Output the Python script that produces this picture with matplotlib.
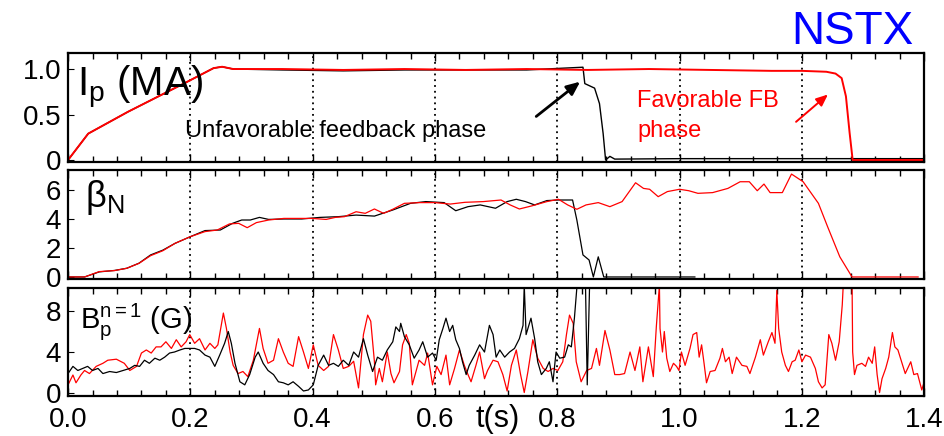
import matplotlib
matplotlib.use('Agg')
import matplotlib.pyplot as plt
from matplotlib.ticker import MultipleLocator

plt.rcParams['font.family'] = 'Liberation Sans'
plt.rcParams['mathtext.fontset'] = 'custom'
plt.rcParams['mathtext.rm'] = 'Liberation Sans'
plt.rcParams['mathtext.it'] = 'Liberation Sans'

# --------------------------------------------------------------------------------
# PLASMA CURRENT Ip (MA)
# --------------------------------------------------------------------------------
ip_red_t = [0.0, 0.033, 0.098, 0.195, 0.238, 0.252, 0.27, 0.35, 0.45, 0.55,
            0.65, 0.75, 0.85, 0.95, 1.05, 1.15, 1.2, 1.24, 1.255, 1.265,
            1.272, 1.278, 1.283, 1.3, 1.4]
ip_red = [0.0, 0.29, 0.53, 0.86, 1.01, 1.025, 1.0, 1.0, 0.99, 1.0,
          0.99, 1.0, 0.99, 1.0, 0.99, 0.98, 0.98, 0.97, 0.95, 0.9,
          0.7, 0.3, 0.0, 0.0, 0.0]

ip_black_t = [0.0, 0.033, 0.098, 0.195, 0.238, 0.252, 0.27, 0.35, 0.45, 0.55,
              0.65, 0.75, 0.842, 0.845, 0.861, 0.869, 0.875, 0.879, 0.886, 0.894,
              1.0, 1.4]
ip_black = [0.0, 0.29, 0.53, 0.86, 1.01, 1.025, 1.0, 0.99, 0.98, 0.99,
            0.99, 0.99, 1.02, 0.84, 0.79, 0.62, 0.29, 0.0, 0.04, 0.01,
            0.015, 0.015]

# --------------------------------------------------------------------------------
# NORMALIZED BETA
# --------------------------------------------------------------------------------
bn_red_t = [0.0, 0.027, 0.051, 0.076, 0.096, 0.116, 0.135, 0.155, 0.175, 0.2,
            0.224, 0.244, 0.264, 0.279, 0.293, 0.308, 0.328, 0.353, 0.373, 0.399,
            0.422, 0.437, 0.452, 0.471, 0.486, 0.501, 0.516, 0.531, 0.55, 0.575,
            0.6, 0.625, 0.649, 0.679, 0.708, 0.723, 0.738, 0.758, 0.783, 0.802,
            0.817, 0.832, 0.847, 0.867, 0.886, 0.906, 0.928, 0.941, 0.951, 0.965,
            0.98, 1.0, 1.015, 1.03, 1.054, 1.079, 1.099, 1.114, 1.127, 1.138,
            1.148, 1.168, 1.183, 1.202, 1.227, 1.242, 1.262, 1.282, 1.39]
bn_red = [0.0, 0.0, 0.37, 0.44, 0.6, 0.94, 1.47, 1.81, 2.32, 2.78,
          3.13, 3.24, 3.66, 3.7, 3.4, 3.75, 3.93, 4.04, 4.04, 4.04,
          3.97, 4.11, 4.16, 4.5, 4.39, 4.69, 4.39, 4.67, 5.08, 5.13,
          5.13, 5.03, 5.15, 5.2, 5.31, 4.97, 4.69, 4.9, 5.2, 5.36,
          4.97, 4.67, 4.97, 5.13, 4.85, 5.2, 6.5, 6.11, 6.05, 5.54,
          5.89, 6.05, 5.95, 5.77, 5.82, 6.11, 6.57, 6.57, 5.95, 6.41,
          5.82, 5.82, 7.1, 6.57, 5.08, 3.47, 1.39, 0.0, 0.0]

bn_black_t = [0.0, 0.027, 0.051, 0.076, 0.096, 0.116, 0.135, 0.155, 0.175, 0.2,
              0.224, 0.249, 0.269, 0.284, 0.298, 0.313, 0.328, 0.353, 0.382, 0.412,
              0.442, 0.471, 0.501, 0.531, 0.56, 0.585, 0.615, 0.634, 0.654, 0.674,
              0.699, 0.718, 0.733, 0.748, 0.763, 0.783, 0.802, 0.825, 0.832, 0.842,
              0.852, 0.859, 0.867, 0.876, 1.025]
bn_black = [0.0, 0.0, 0.35, 0.45, 0.6, 0.95, 1.52, 1.85, 2.32, 2.78,
            3.2, 3.24, 3.7, 3.93, 3.93, 4.11, 3.97, 4.0, 4.0, 4.11,
            4.16, 4.27, 4.2, 4.62, 5.08, 5.2, 5.13, 4.57, 4.85, 4.97,
            4.74, 5.2, 5.36, 5.2, 4.97, 5.27, 5.31, 5.31, 3.93, 1.52,
            1.17, 0.0, 1.39, 0.0, 0.0]

# --------------------------------------------------------------------------------
# n=1 POLOIDAL FIELD AMPLITUDE (G)
# --------------------------------------------------------------------------------
bp_red_t = [0.000, 0.008, 0.013, 0.021, 0.027, 0.035, 0.046, 0.057, 0.065, 0.079,
            0.092, 0.101, 0.112, 0.120, 0.128, 0.136, 0.144, 0.152, 0.160, 0.169,
            0.177, 0.185, 0.193, 0.199, 0.207, 0.215, 0.224, 0.232, 0.240, 0.245,
            0.254, 0.259, 0.265, 0.270, 0.278, 0.286, 0.294, 0.303, 0.313, 0.319,
            0.327, 0.336, 0.344, 0.352, 0.360, 0.368, 0.377, 0.385, 0.393, 0.401,
            0.409, 0.418, 0.426, 0.434, 0.442, 0.450, 0.459, 0.467, 0.475, 0.483,
            0.490, 0.495, 0.501, 0.503, 0.509, 0.514, 0.522, 0.528, 0.533, 0.542,
            0.547, 0.553, 0.558, 0.563, 0.569, 0.574, 0.583, 0.588, 0.596, 0.603,
            0.610, 0.618, 0.624, 0.632, 0.640, 0.648, 0.654, 0.659, 0.667, 0.673,
            0.681, 0.686, 0.695, 0.703, 0.711, 0.718, 0.725, 0.733, 0.740, 0.746,
            0.752, 0.760, 0.768, 0.777, 0.785, 0.793, 0.801, 0.809, 0.815, 0.820,
            0.826, 0.831, 0.839, 0.848, 0.856, 0.864, 0.869, 0.878, 0.886, 0.894,
            0.902, 0.910, 0.919, 0.927, 0.935, 0.940, 0.949, 0.957, 0.962, 0.967,
            0.968, 0.972, 0.975, 0.979, 0.984, 0.990, 0.995, 0.999, 1.003, 1.009,
            1.017, 1.022, 1.028, 1.032, 1.036, 1.040, 1.044, 1.050, 1.058, 1.066,
            1.070, 1.075, 1.081, 1.086, 1.093, 1.102, 1.110, 1.115, 1.124, 1.132,
            1.137, 1.145, 1.151, 1.156, 1.159, 1.162, 1.167, 1.173, 1.178, 1.184,
            1.189, 1.195, 1.200, 1.206, 1.214, 1.222, 1.227, 1.233, 1.238, 1.244,
            1.249, 1.255, 1.261, 1.266, 1.268, 1.282, 1.283, 1.286, 1.290, 1.298,
            1.304, 1.309, 1.315, 1.319, 1.323, 1.327, 1.331, 1.337, 1.342, 1.348,
            1.352, 1.357, 1.363, 1.369, 1.378, 1.383, 1.389, 1.396, 1.400]
bp_red = [0.8, 1.76, 1.0, 1.76, 2.2, 1.9, 2.6, 2.9, 3.2, 3.3,
          2.9, 2.2, 2.6, 3.9, 4.2, 3.9, 4.5, 4.5, 5.0, 4.35,
          5.2, 4.5, 5.0, 5.7, 4.85, 5.3, 4.2, 4.85, 4.35, 4.7,
          7.8, 6.3, 4.0, 2.7, 1.9, 2.1, 1.6, 3.2, 6.3, 4.35,
          2.9, 3.2, 5.3, 4.0, 2.9, 2.6, 5.5, 4.0, 2.4, 4.7,
          2.7, 2.2, 2.6, 5.7, 4.2, 2.4, 2.6, 3.1, 0.5, 5.7,
          7.6, 7.0, 3.05, 0.8, 2.4, 1.1, 4.0, 1.9, 1.0, 2.1,
          4.7, 5.7, 4.85, 0.8, 2.1, 3.2, 2.7, 3.9, 0.8, 2.6,
          1.8, 3.7, 0.8, 2.4, 4.2, 2.7, 1.8, 1.1, 2.7, 4.0,
          1.4, 2.2, 3.2, 3.05, 1.8, 0.2, 2.7, 4.2, 1.8, 0.05,
          2.1, 5.2, 3.4, 2.4, 2.1, 2.4, 2.2, 3.05, 5.7, 7.6,
          6.8, 3.05, 1.1, 2.2, 2.4, 4.35, 2.7, 6.1, 4.2, 1.8,
          1.8, 1.9, 4.0, 2.2, 4.5, 1.1, 4.5, 1.6, 6.5, 10.5,
          6.3, 4.0, 6.0, 3.4, 2.1, 2.9, 2.6, 2.2, 4.0, 2.7,
          4.35, 5.7, 5.9, 3.5, 4.7, 2.9, 1.0, 2.1, 2.2, 3.4,
          4.35, 3.05, 3.5, 1.9, 3.5, 2.7, 2.6, 1.9, 3.5, 5.2,
          3.7, 5.0, 5.9, 4.85, 10.0, 6.3, 4.0, 2.7, 2.1, 3.05,
          3.2, 4.2, 3.05, 3.7, 3.5, 2.4, 1.1, 0.5, 0.8, 5.7,
          4.85, 3.2, 5.0, 8.6, 11.0, 11.0, 4.0, 1.8, 2.7, 2.9,
          2.6, 3.5, 2.9, 4.5, 1.8, 0.05, 1.4, 2.4, 3.5, 5.9,
          4.5, 4.2, 3.05, 1.9, 3.05, 1.8, 1.9, 0.3, 1.1]

bp_black_t = [0.000, 0.008, 0.016, 0.024, 0.032, 0.040, 0.049, 0.057, 0.068, 0.079,
              0.090, 0.101, 0.109, 0.117, 0.125, 0.133, 0.142, 0.150, 0.158, 0.166,
              0.174, 0.183, 0.191, 0.199, 0.207, 0.215, 0.224, 0.232, 0.240, 0.248,
              0.256, 0.262, 0.267, 0.273, 0.281, 0.289, 0.297, 0.306, 0.311, 0.319,
              0.327, 0.336, 0.344, 0.352, 0.360, 0.368, 0.377, 0.385, 0.393, 0.401,
              0.409, 0.418, 0.426, 0.434, 0.442, 0.450, 0.459, 0.467, 0.475, 0.483,
              0.490, 0.498, 0.506, 0.514, 0.522, 0.531, 0.536, 0.542, 0.544, 0.550,
              0.558, 0.566, 0.574, 0.580, 0.588, 0.596, 0.602, 0.607, 0.613, 0.618,
              0.624, 0.629, 0.634, 0.640, 0.645, 0.651, 0.656, 0.665, 0.673, 0.681,
              0.689, 0.695, 0.700, 0.706, 0.714, 0.722, 0.730, 0.738, 0.744, 0.746,
              0.749, 0.757, 0.763, 0.768, 0.774, 0.782, 0.787, 0.793, 0.798, 0.804,
              0.812, 0.818, 0.823, 0.828, 0.833, 0.846, 0.849, 0.853, 0.857]
bp_black = [1.9, 2.6, 2.2, 2.4, 2.6, 2.2, 2.4, 1.9, 2.1, 2.0,
            2.2, 2.4, 2.7, 2.6, 3.2, 2.9, 3.4, 3.2, 3.5, 3.9,
            4.0, 4.2, 4.35, 4.35, 4.35, 4.2, 3.7, 3.5, 2.6, 3.7,
            4.85, 6.0, 4.85, 2.9, 1.1, 0.8, 1.8, 3.5, 4.0, 2.9,
            2.2, 1.8, 1.1, 1.0, 0.8, 1.1, 0.65, 0.2, 0.3, 0.8,
            2.7, 3.7, 2.7, 2.9, 2.6, 3.2, 2.7, 4.0, 3.5, 5.3,
            3.7, 2.1, 3.5, 3.2, 4.2, 5.0, 6.45, 6.0, 6.8, 5.5,
            4.7, 3.4, 4.2, 5.0, 3.5, 3.9, 3.2, 5.2, 6.3, 7.3,
            6.0, 6.6, 5.2, 4.35, 3.05, 1.8, 2.7, 3.7, 4.7, 4.0,
            6.6, 5.7, 3.5, 4.2, 3.5, 4.0, 4.35, 5.3, 6.6, 10.5,
            5.7, 7.3, 5.3, 3.05, 1.8, 2.4, 3.05, 1.1, 4.0, 3.4,
            3.5, 4.7, 4.5, 7.3, 11.0, 11.0, 0.8, 11.0, 11.0]

x_ticks = [0.0, 0.2, 0.4, 0.6, 0.8, 1.0, 1.2, 1.4]
x_tick_labels = ['0.0', '0.2', '0.4', '0.6', '0.8', '1.0', '1.2', '1.4']
grid_times = [0.2, 0.4, 0.6, 0.8, 1.0, 1.2]

# --------------------------------------------------------------------------------
# FIGURE
# --------------------------------------------------------------------------------
fig = plt.figure(figsize=(9.45, 4.36), dpi=100)
ax1 = fig.add_axes([0.072, 0.6284, 0.906, 0.25])
ax2 = fig.add_axes([0.072, 0.3601, 0.906, 0.25])
ax3 = fig.add_axes([0.072, 0.0917, 0.906, 0.2477])

ax1.plot(ip_black_t, ip_black, color='black', lw=1.0)
ax1.plot(ip_red_t, ip_red, color='red', lw=1.4)
ax1.set_ylim(-0.022, 1.176)
ax1.set_yticks([0, 0.5, 1.0])
ax1.set_yticklabels(['0', '0.5', '1.0'])

ax2.plot(bn_black_t, bn_black, color='black', lw=0.9)
ax2.plot(bn_red_t, bn_red, color='red', lw=0.9)
ax2.set_ylim(-0.14, 7.38)
ax2.set_yticks([0, 2, 4, 6])

ax3.plot(bp_red_t, bp_red, color='red', lw=0.9)
ax3.plot(bp_black_t, bp_black, color='black', lw=0.9)
ax3.set_ylim(-0.29, 10.24)
ax3.set_yticks([0, 4, 8])

for ax in (ax1, ax2, ax3):
    ax.set_xlim(0, 1.4)
    ax.set_xticks(x_ticks)
    ax.xaxis.set_minor_locator(MultipleLocator(0.04))
    ax.tick_params(axis='x', which='both', direction='in', top=True, bottom=True)
    ax.tick_params(axis='x', which='major', length=6, width=1)
    ax.tick_params(axis='x', which='minor', length=4, width=1)
    ax.tick_params(axis='y', direction='in', length=4, labelsize=20, pad=5)
    for t in grid_times:
        ax.axvline(t, color='black', lw=1.3, ls=(0, (1, 2.2)), zorder=0)
    for sp in ax.spines.values():
        sp.set_linewidth(1.6)

ax1.set_xticklabels([])
ax2.set_xticklabels([])
ax3.set_xticklabels(x_tick_labels)
ax3.tick_params(axis='x', which='major', labelsize=20, pad=8)

# panel labels
ax1.text(0.0105, 0.6, r'$\mathregular{I_p}$ (MA)', transform=ax1.transAxes,
         fontsize=29, va='baseline', ha='left')
ax2.text(0.02, 0.66, r'$\mathregular{β_N}$', transform=ax2.transAxes,
         fontsize=26, va='baseline', ha='left')
ax3.text(0.014, 0.63, r'$\mathregular{B_p^{n{=}1}}$ (G)', transform=ax3.transAxes,
         fontsize=21, va='baseline', ha='left')

# annotations in the current panel
ax1.text(0.137, 0.23, 'Unfavorable feedback phase', transform=ax1.transAxes,
         fontsize=17, va='baseline', ha='left')
ax1.annotate('', xy=(0.841, 0.88), xytext=(0.762, 0.46),
             arrowprops=dict(arrowstyle='-|>,head_length=0.8,head_width=0.35',
                             color='black', lw=2))
ax1.text(0.665, 0.505, 'Favorable FB', transform=ax1.transAxes,
         fontsize=17, color='red', va='baseline', ha='left')
ax1.text(0.665, 0.23, 'phase', transform=ax1.transAxes,
         fontsize=17, color='red', va='baseline', ha='left')
ax1.annotate('', xy=(1.246, 0.74), xytext=(1.187, 0.40),
             arrowprops=dict(arrowstyle='-|>,head_length=0.7,head_width=0.3',
                             color='red', lw=1.4))

fig.text(0.527, 1 - 419 / 436, 't(s)', fontsize=22, ha='center', va='center')
fig.text(0.902, 0.899, 'NSTX', fontsize=33, color='#0000ff', ha='center',
         va='baseline')

fig.savefig('out.png', dpi=100)
